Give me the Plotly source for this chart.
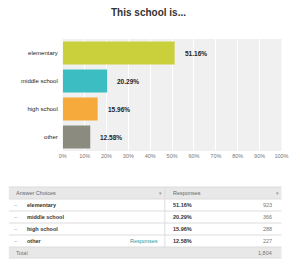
import plotly.graph_objects as go

categories = ["elementary", "middle school", "high school", "other"]
percents = [51.16, 20.29, 15.96, 12.58]
counts = [923, 366, 288, 227]
total = 1804
colors = ["#c9d03b", "#3cbdc1", "#f6aa3b", "#8b8b7f"]
tick_vals = list(range(0, 101, 10))
tick_text = [f"{v}%" for v in tick_vals]

W, H = 300, 269
def px(x): return x / W
def py(y): return 1 - y / H

FONT = "Liberation Sans, Arial"

fig = go.Figure()
fig.add_trace(go.Bar(
    y=categories, x=percents, orientation="h",
    marker=dict(color=colors, line=dict(width=0)),
    hoverinfo="skip",
))

shapes = []
annotations = []

# bar value labels
for c, p in zip(categories, percents):
    annotations.append(dict(x=p, y=c, xref="x", yref="y", text=f"<b>{p:.2f}%</b>", showarrow=False,
                            xanchor="left", yanchor="middle", xshift=8,
                            font=dict(family=FONT, size=6.5, color="#222")))

# title
annotations.append(dict(x=0.5, y=py(12), xref="paper", yref="paper", text="<b>This school is...</b>",
                        showarrow=False, font=dict(family=FONT, size=10, color="#333"),
                        xanchor="center", yanchor="middle"))

# table
tx0, tx1, tcol = 5, 288, 167
rows_y = [187, 199, 211, 223, 235, 247, 258]
shapes.append(dict(type="rect", xref="paper", yref="paper", x0=px(tx0), x1=px(tx1),
                   y0=py(rows_y[1]), y1=py(rows_y[0]), fillcolor="#e8e8e8", line=dict(width=0), layer="below"))
shapes.append(dict(type="rect", xref="paper", yref="paper", x0=px(tx0), x1=px(tx1),
                   y0=py(rows_y[6]), y1=py(rows_y[5]), fillcolor="#e8e8e8", line=dict(width=0), layer="below"))
for yy in rows_y:
    shapes.append(dict(type="line", xref="paper", yref="paper", x0=px(tx0), x1=px(tx1),
                       y0=py(yy), y1=py(yy), line=dict(color="#dcdcdc", width=1)))
shapes.append(dict(type="line", xref="paper", yref="paper", x0=px(tcol), x1=px(tcol),
                   y0=py(rows_y[0]), y1=py(rows_y[5]), line=dict(color="#dcdcdc", width=1)))

def ann(x, y, text, size=5.5, color="#333", anchor="left", bold=False):
    t = f"<b>{text}</b>" if bold else text
    annotations.append(dict(x=px(x), y=py(y), xref="paper", yref="paper", text=t, showarrow=False,
                            font=dict(family=FONT, size=size, color=color),
                            xanchor=anchor, yanchor="middle"))

ann(10, 193, "Answer Choices", color="#666")
ann(173, 193, "Responses", color="#666")
ann(162, 193, "▾", size=5, color="#999", anchor="center")
ann(284, 193, "▾", size=5, color="#999", anchor="center")
for i, (c, p, n) in enumerate(zip(categories, percents, counts)):
    yc = (rows_y[i + 1] + rows_y[i + 2]) / 2
    ann(12, yc, "–", color="#999", anchor="center")
    ann(22, yc, c, bold=True, color="#333")
    ann(173, yc, f"{p:.2f}%", bold=True, color="#333")
    ann(280, yc, f"{n}", color="#777", anchor="right")
ann(129, (rows_y[4] + rows_y[5]) / 2, "Responses", color="#2a9d9f", anchor="left")
ann(10, (rows_y[5] + rows_y[6]) / 2, "Total", color="#777")
ann(280, (rows_y[5] + rows_y[6]) / 2, f"{total:,}", color="#777", anchor="right")

fig.update_layout(
    width=W, height=H, margin=dict(l=0, r=0, t=0, b=0),
    paper_bgcolor="white", plot_bgcolor="#f0f0f0",
    showlegend=False, bargap=0.17,
    xaxis=dict(domain=[px(61), px(288)], range=[0, 100], tickvals=tick_vals, ticktext=tick_text,
               showgrid=True, gridcolor="white", gridwidth=1, zeroline=False, showline=False,
               ticks="", tickfont=dict(family=FONT, size=5.5, color="#777"), fixedrange=True),
    yaxis=dict(domain=[py(151), py(39)], autorange="reversed", showgrid=False, zeroline=False,
               ticks="", ticklabelstandoff=4,
               tickfont=dict(family=FONT, size=6, color="#222"), fixedrange=True),
    shapes=shapes, annotations=annotations,
)
fig.write_html("out.html")
